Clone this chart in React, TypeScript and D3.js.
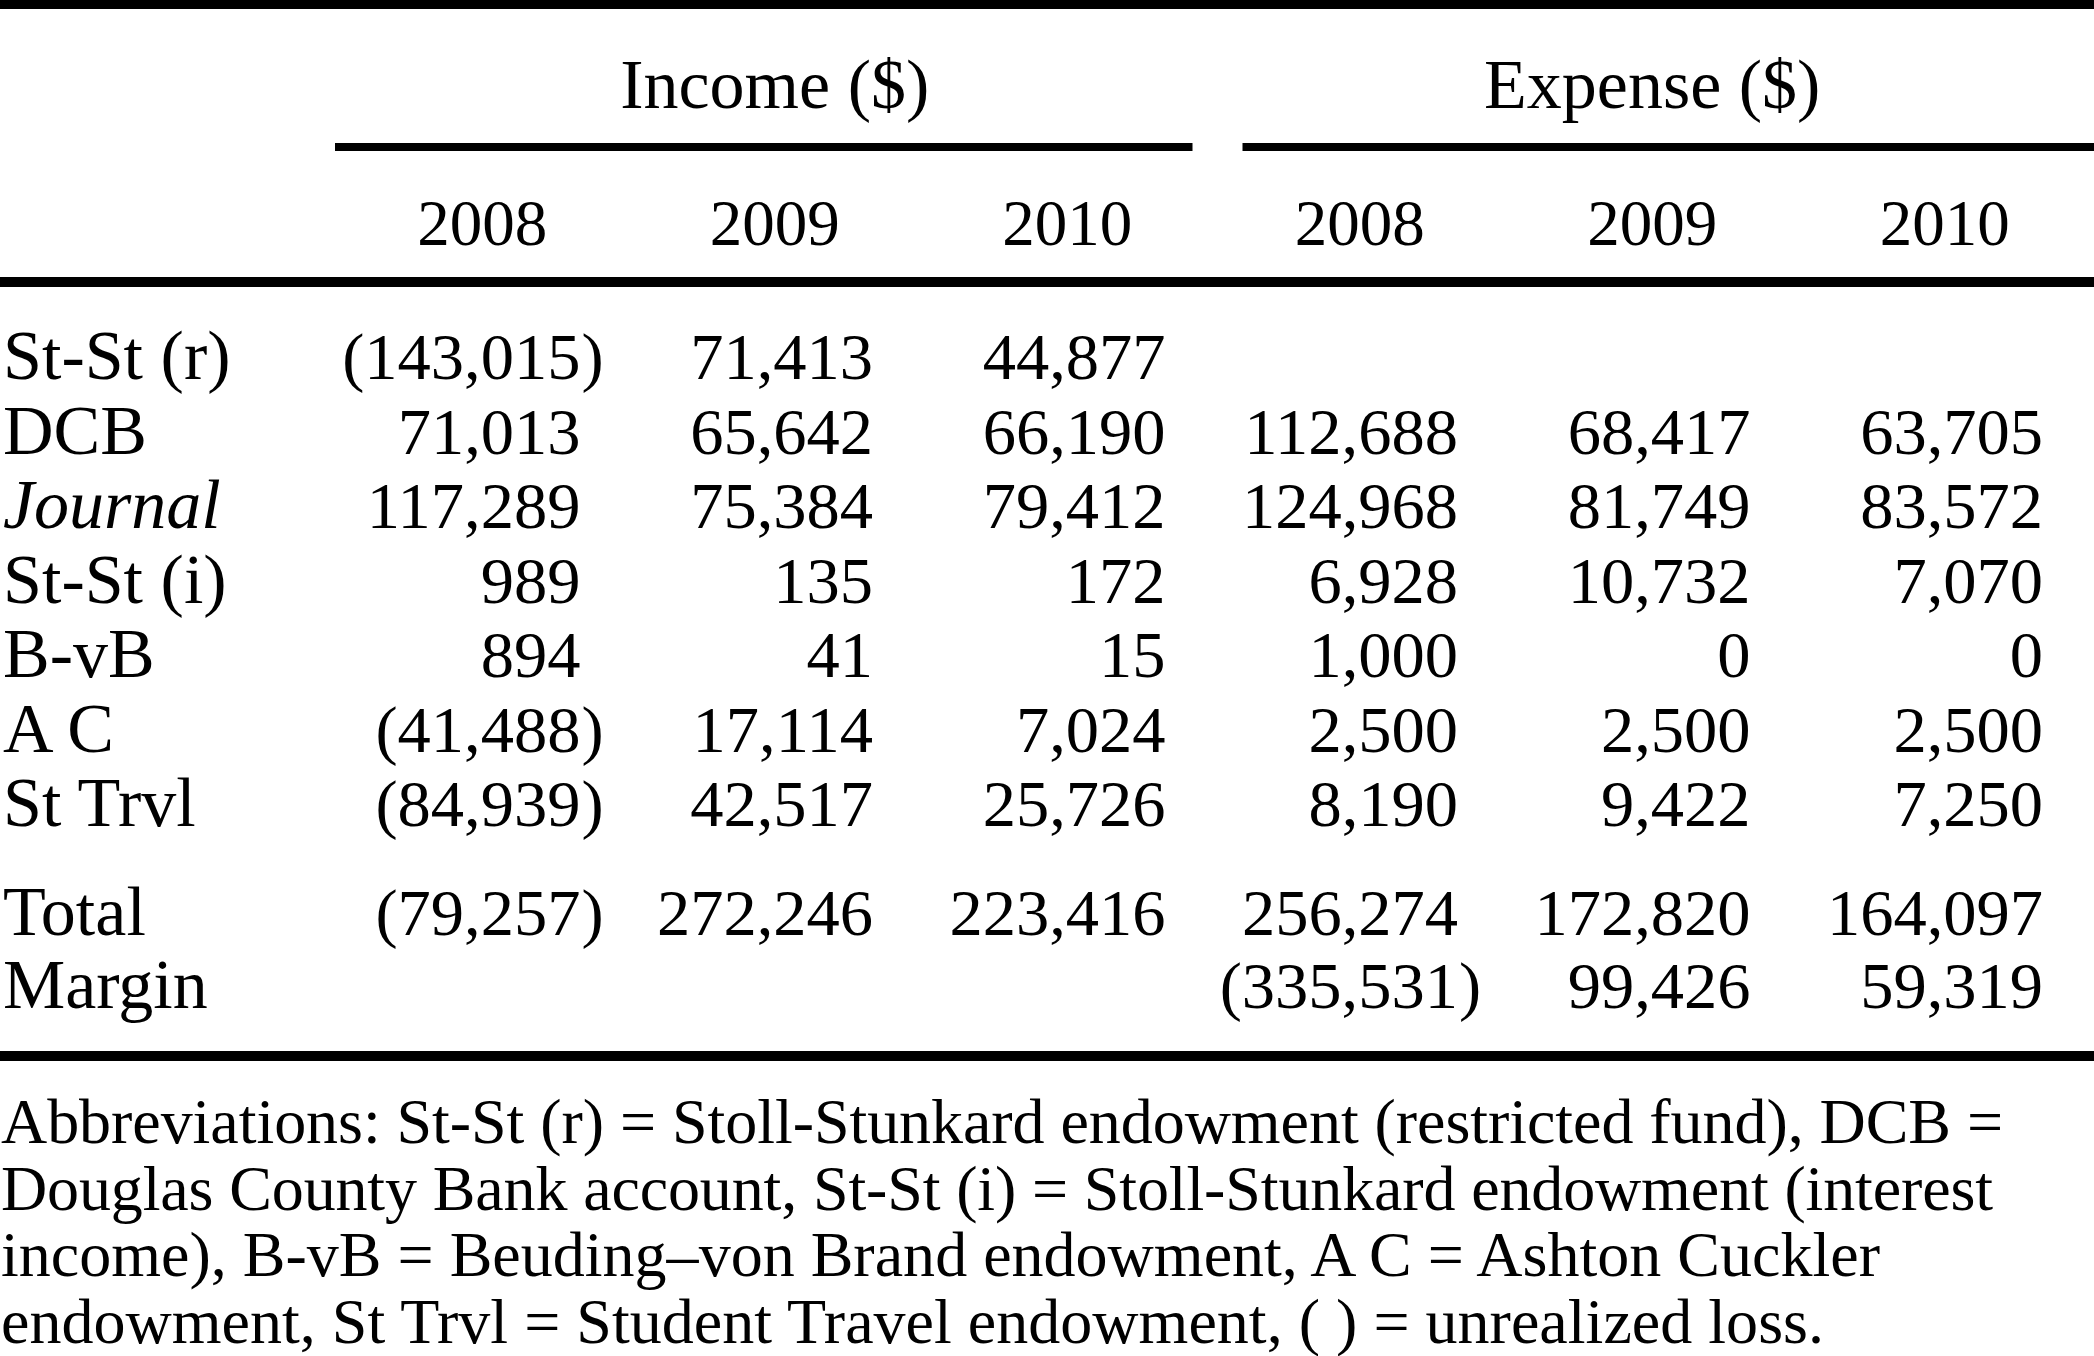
import React from 'react';
import { scaleBand, scalePoint, format } from 'd3';

const groups = ['Income ($)', 'Expense ($)'];
const years = ['2008', '2009', '2010'];
const rowLabels = ['St-St (r)', 'DCB', 'Journal', 'St-St (i)', 'B-vB', 'A C', 'St Trvl'];

const income2008 = [-143015, 71013, 117289, 989, 894, -41488, -84939];
const income2009 = [71413, 65642, 75384, 135, 41, 17114, 42517];
const income2010 = [44877, 66190, 79412, 172, 15, 7024, 25726];
const expense2008: (number | null)[] = [null, 112688, 124968, 6928, 1000, 2500, 8190];
const expense2009: (number | null)[] = [null, 68417, 81749, 10732, 0, 2500, 9422];
const expense2010: (number | null)[] = [null, 63705, 83572, 7070, 0, 2500, 7250];

const totalLabels = ['Total', 'Margin'];
const totalRow: (number | null)[] = [-79257, 272246, 223416, 256274, 172820, 164097];
const marginRow: (number | null)[] = [null, null, null, -335531, 99426, 59319];

const footnote = [
  'Abbreviations: St-St (r) = Stoll-Stunkard endowment (restricted fund), DCB =',
  'Douglas County Bank account, St-St (i) = Stoll-Stunkard endowment (interest',
  'income), B-vB = Beuding\u2013von Brand endowment, A C = Ashton Cuckler',
  'endowment, St Trvl = Student Travel endowment, ( ) = unrealized loss.',
];
// measured right ends of the footnote lines
const footnoteEnds = [2003, 1993, 1880, 1824];

const W = 2094;
const H = 1356;
const FONT = '"Liberation Serif", "Times New Roman", serif';
const FS_NUM = 66.5;
const FS_TXT = 70;

const fmt = format(',');

const Cell: React.FC<{ v: number | null; x: number; y: number }> = ({ v, x, y }) => {
  if (v === null) return null;
  if (v < 0) {
    return (
      <g>
        <text x={x} y={y} textAnchor="end">{'(' + fmt(-v)}</text>
        <text x={x + 1} y={y} textAnchor="start">)</text>
      </g>
    );
  }
  return <text x={x} y={y} textAnchor="end">{fmt(v)}</text>;
};

export default function App() {
  const cols = groups.flatMap(g => years.map(y => g + '|' + y));
  const x = scaleBand<string>().domain(cols).range([336, 2091]);
  const bw = x.bandwidth();
  const numX = (i: number) => (x(cols[i]) as number) + bw - 48;

  const yBody = scalePoint<string>().domain(rowLabels).range([379, 826]);
  const yTot = scalePoint<string>().domain(totalLabels).range([935, 1008]);

  const body = rowLabels.map((_, i) => [
    income2008[i], income2009[i], income2010[i],
    expense2008[i], expense2009[i], expense2010[i],
  ]);

  const incomeStart = x(cols[0]) as number;
  const incomeEnd = (x(cols[2]) as number) + bw;
  const expenseStart = x(cols[3]) as number;

  return (
    <svg width={W} height={H} style={{ position: 'absolute', left: 0, top: 0, background: '#fff' }}
      fontFamily={FONT} fontSize={FS_NUM} fill="#000">
      <rect x={0} y={0} width={W} height={H} fill="#fff" />
      {/* rules */}
      <rect x={0} y={0} width={W} height={9} fill="#000" />
      <rect x={incomeStart - 1} y={143} width={incomeEnd - incomeStart - 20} height={8} fill="#000" />
      <rect x={expenseStart + 29} y={143} width={W - expenseStart - 29} height={8} fill="#000" />
      <rect x={0} y={277} width={W} height={10} fill="#000" />
      <rect x={0} y={1051} width={W} height={10} fill="#000" />

      {/* group headers */}
      {groups.map((g, gi) => {
        const a = x(cols[gi * 3]) as number;
        const b = (x(cols[gi * 3 + 2]) as number) + bw;
        return <text key={g} x={(a + b) / 2} y={108} fontSize={FS_TXT} textAnchor="middle">{g}</text>;
      })}
      {cols.map(c => (
        <text key={c} x={(x(c) as number) + bw / 2} y={245} fontSize={65} textAnchor="middle">{c.split('|')[1]}</text>
      ))}

      {/* body */}
      {rowLabels.map((lab, i) => (
        <g key={lab}>
          <text x={3} y={yBody(lab)} fontSize={FS_TXT} fontStyle={lab === 'Journal' ? 'italic' : 'normal'}>{lab}</text>
          {body[i].map((v, j) => <Cell key={j} v={v} x={numX(j)} y={yBody(lab) as number} />)}
        </g>
      ))}

      {[totalRow, marginRow].map((row, i) => (
        <g key={totalLabels[i]}>
          <text x={3} y={yTot(totalLabels[i])} fontSize={FS_TXT}>{totalLabels[i]}</text>
          {row.map((v, j) => <Cell key={j} v={v} x={numX(j)} y={yTot(totalLabels[i]) as number} />)}
        </g>
      ))}

      {/* footnote */}
      {footnote.map((line, i) => (
        <text key={i} x={1} y={1143 + i * 66.5} fontSize={64}
          textLength={footnoteEnds[i] - 1} lengthAdjust="spacing">{line}</text>
      ))}
    </svg>
  );
}
